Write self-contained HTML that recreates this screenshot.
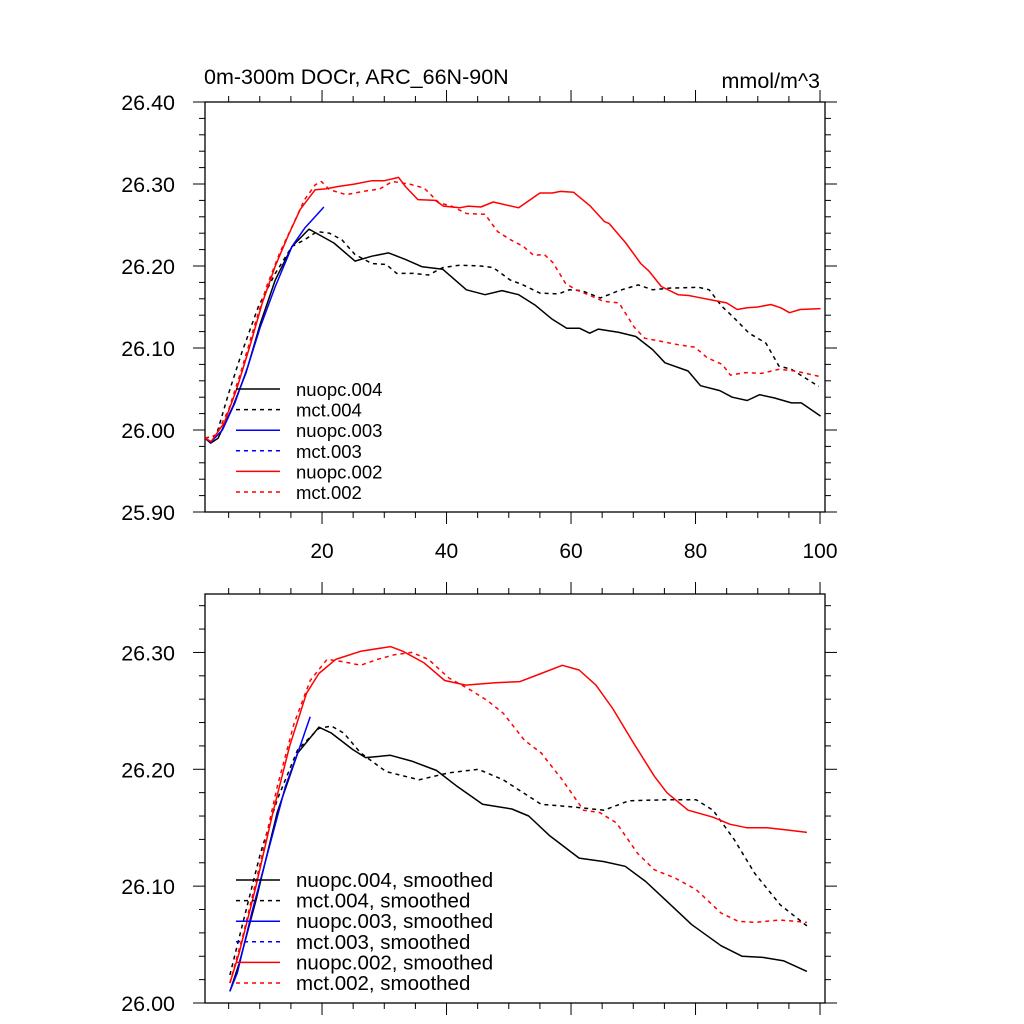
<!DOCTYPE html>
<html><head><meta charset="utf-8"><style>html,body{margin:0;padding:0;background:#fff}svg{display:block}text{font-family:"Liberation Sans",sans-serif}</style></head>
<body>
<svg id="chart" width="1024" height="1024" viewBox="0 0 1024 1024" xmlns="http://www.w3.org/2000/svg">
<text x="204" y="84" font-size="21.5">0m-300m DOCr, ARC_66N-90N</text>
<text x="820" y="88" font-size="21.5" text-anchor="end">mmol/m^3</text>
<g id="top"></g>
<g id="bot"></g>
</svg>
<script>
const xTicks=[20,40,60,80,100];
const topYTicks=[25.90,26.00,26.10,26.20,26.30,26.40];
const botYTicks=[26.00,26.10,26.20,26.30];

const nuopc004X=[1.2,2.1,3.3,5.7,7.8,10.1,12.5,15.2,17.9,21.9,25.3,28,30.7,33.4,36.1,39.4,43.2,46.2,48.9,51.6,54.3,57,59.3,61.4,63,64.4,67.7,70.4,73.1,75.1,78.8,80.8,83.9,85.9,88.3,90.3,92.7,95.4,97,100.1];
const nuopc004Y=[25.990,25.984,25.99,26.029,26.07,26.13,26.183,26.224,26.245,26.228,26.206,26.212,26.216,26.208,26.199,26.196,26.171,26.165,26.170,26.165,26.152,26.135,26.124,26.124,26.118,26.123,26.119,26.114,26.098,26.082,26.072,26.054,26.048,26.040,26.036,26.043,26.039,26.033,26.033,26.017];
const mct004X=[1.2,3,5,7.1,9.8,12.5,15.2,17.2,19.2,21.2,23.2,25.3,28,30.3,32,34.7,37.1,39.4,42.1,45.5,47.5,50.2,52.3,55,58,59.7,61.7,64.7,67.7,70.8,73.1,75.8,80.5,82.2,84.2,85.9,88.6,91.3,93.4,95.4,97.7,99.8];
const mct004Y=[25.99,25.993,26.045,26.094,26.151,26.191,26.224,26.232,26.242,26.24,26.232,26.214,26.203,26.202,26.191,26.191,26.189,26.198,26.201,26.2,26.198,26.183,26.177,26.167,26.166,26.171,26.170,26.161,26.17,26.177,26.171,26.173,26.174,26.171,26.151,26.139,26.118,26.106,26.078,26.074,26.063,26.053];
const nuopc003X=[1.2,2.1,4,6,8.1,10.1,12.5,15.2,17.2,20.3];
const nuopc003Y=[25.99,25.985,26.0,26.033,26.078,26.126,26.175,26.224,26.246,26.272];
const nuopc002X=[1.2,2.2,4.3,6.3,8.4,10.4,12.5,14.5,16.5,18.9,20.6,22.6,25.3,28,30,32.3,33.4,35.4,38.2,39.5,42.1,43.5,45.5,47.5,51.6,55,57,58.3,60.4,63.1,65.4,66.1,68.8,71.2,72.5,74.5,77.2,78.9,80.3,82.9,85,86.7,88.3,90,92.1,93.7,95.1,96.8,100.1];
const nuopc002Y=[25.99,25.986,26.009,26.05,26.102,26.155,26.2,26.236,26.269,26.293,26.294,26.297,26.30,26.304,26.304,26.308,26.297,26.281,26.28,26.273,26.271,26.273,26.272,26.278,26.271,26.289,26.289,26.291,26.29,26.273,26.254,26.252,26.228,26.203,26.194,26.175,26.165,26.164,26.162,26.158,26.155,26.147,26.149,26.15,26.153,26.149,26.143,26.147,26.148];
const mct002X=[1.2,3,5,7.1,9.1,11.1,13.2,15.2,17.2,18.9,19.9,21.2,23.9,26.6,29.3,31.3,34,36.4,38.8,40.8,43.2,46.2,48.2,50.3,52.3,54,55.7,57.1,59.1,60.8,63.1,65.2,67.7,70.1,71.8,74.5,77.2,79.9,81.9,84.3,85.6,88,90.6,93.4,96,100.1];
const mct002Y=[25.99,25.994,26.025,26.074,26.126,26.175,26.216,26.248,26.281,26.299,26.303,26.293,26.287,26.291,26.294,26.303,26.30,26.295,26.277,26.273,26.264,26.263,26.242,26.232,26.224,26.213,26.214,26.204,26.179,26.171,26.164,26.157,26.155,26.126,26.112,26.108,26.104,26.101,26.088,26.08,26.067,26.07,26.069,26.074,26.072,26.065];

const sNuopc004X=[5.2,6.7,9.4,12.8,16.1,19.5,21.5,24.9,27,31,34.4,38.4,41.8,45.8,50.5,53.2,56.6,61.3,65.3,68.7,72,75.4,79.4,84.1,87.5,90.8,94.2,97.9];
const sNuopc004Y=[26.010,26.034,26.088,26.163,26.214,26.236,26.231,26.217,26.21,26.212,26.207,26.199,26.185,26.170,26.166,26.16,26.143,26.124,26.121,26.117,26.104,26.087,26.067,26.049,26.04,26.039,26.036,26.027];
const sMct004X=[5.2,7.4,10.1,12.8,16.1,19.5,21.5,23.5,26.2,30.3,35.6,40.4,45.1,49.1,55.2,59.9,65.3,69.3,75.4,80.1,82.8,86.2,89.5,93.6,97.9];
const sMct004Y=[26.024,26.071,26.128,26.174,26.217,26.235,26.237,26.231,26.214,26.198,26.191,26.197,26.2,26.191,26.17,26.168,26.165,26.173,26.174,26.174,26.165,26.14,26.111,26.084,26.066];
const sNuopc003X=[5.2,6.4,8.7,11.4,14.1,16.5,18.1];
const sNuopc003Y=[26.01,26.026,26.077,26.131,26.185,26.22,26.245];
const sNuopc002X=[5.2,6.7,9.4,12.1,14.8,17.5,19.5,22.2,26.2,31,33,36.4,39.7,43.1,47.8,51.8,55.2,58.6,61.3,64,66.7,70.1,73.4,75.4,78.8,82.8,85.5,88.2,91.5,94.9,97.9];
const sNuopc002Y=[26.017,26.043,26.1,26.163,26.22,26.265,26.282,26.294,26.301,26.305,26.301,26.291,26.276,26.272,26.274,26.275,26.282,26.289,26.285,26.272,26.252,26.222,26.194,26.18,26.165,26.159,26.153,26.15,26.15,26.148,26.146];
const sMct002X=[5.2,7.4,10.1,12.8,15.5,18.1,20.8,23.5,26.2,28.9,31.6,34.4,37.1,40.4,43.8,46.5,49.1,52.5,55.2,58.6,62,64.6,67.3,70.7,73.4,76.7,80.1,84.1,86.8,89.5,93.6,97.9];
const sMct002Y=[26.017,26.06,26.12,26.185,26.239,26.276,26.294,26.292,26.289,26.294,26.298,26.3,26.294,26.278,26.268,26.259,26.248,26.225,26.214,26.191,26.165,26.163,26.154,26.128,26.114,26.107,26.097,26.077,26.07,26.069,26.071,26.069];

const topLabels=["nuopc.004","mct.004","nuopc.003","mct.003","nuopc.002","mct.002"];
const botLabels=["nuopc.004, smoothed","mct.004, smoothed","nuopc.003, smoothed","mct.003, smoothed","nuopc.002, smoothed","mct.002, smoothed"];
const colors=["#000","#000","#0000ff","#0000ff","#ff0000","#ff0000"];
const dashed=[false,true,false,true,false,true];

const NS="http://www.w3.org/2000/svg";
function mk(tag,attrs,parent){const e=document.createElementNS(NS,tag);for(const k in attrs)e.setAttribute(k,attrs[k]);parent.appendChild(e);return e;}

function panel(g,top,bottom,ymin,ymax,yTicks,series,labels,legY,prefix,legFont){
  const L=205,R=825,xmin=1.2,xmax=100.8;
  const sx=v=>L+(v-xmin)/(xmax-xmin)*(R-L);
  const sy=v=>bottom-(v-ymin)/(ymax-ymin)*(bottom-top);
  const fr=mk('rect',{x:L,y:top,width:R-L,height:bottom-top,fill:'none',stroke:'#000','stroke-width':1.3},g);
  
  
  for(let v=5;v<=100;v+=5){
    const major=v%20===0, len=major?12:6, x=sx(v);
    const t1=mk('line',{x1:x,x2:x,y1:bottom,y2:bottom+len,stroke:'#000','stroke-width':1},g);
    
    
    const t2=mk('line',{x1:x,x2:x,y1:top,y2:top-len,stroke:'#000','stroke-width':1},g);
    
    
  }
  if(prefix==='top'){
    xTicks.forEach(v=>{const t=mk('text',{x:sx(v),y:bottom+46,'font-size':21,'text-anchor':'middle'},g);t.textContent=v;
      
      });
  }
  const step=0.02;
  for(let i=0;ymin+i*step<=ymax+1e-9;i++){
    const v=ymin+i*step, y=sy(v);
    const major=yTicks.some(t=>Math.abs(t-v)<1e-6), len=major?12:6;
    const a=mk('line',{x1:L,x2:L-len,y1:y,y2:y,stroke:'#000','stroke-width':1},g);
    
    
    const b=mk('line',{x1:R,x2:R+len,y1:y,y2:y,stroke:'#000','stroke-width':1},g);
    
    
  }
  yTicks.forEach(v=>{const t=mk('text',{x:175,y:sy(v)+8,'font-size':21.5,'text-anchor':'end'},g);t.textContent=v.toFixed(2);
    
    });
  series.forEach((s,i)=>{
    if(!s)return;
    const d=s[0].map((x,j)=>(j?'L':'M')+sx(x).toFixed(1)+' '+sy(s[1][j]).toFixed(1)).join(' ');
    const p=mk('path',{d:d,fill:'none',stroke:colors[i],'stroke-width':1.5,'stroke-dasharray':dashed[i]?'4,4':'none','stroke-linejoin':'round'},g);
    
    
  });
  labels.forEach((lab,i)=>{
    const y=legY+i*20.6;
    const ln=mk('line',{x1:236,x2:280,y1:y,y2:y,stroke:colors[i],'stroke-width':1.5,'stroke-dasharray':dashed[i]?'4,4':'none'},g);
    
    
    const t=mk('text',{x:296,y:y+7,'font-size':legFont},g);t.textContent=lab;
    
    
  });
}
panel(document.getElementById('top'),102,512,25.90,26.40,topYTicks,
  [[nuopc004X,nuopc004Y],[mct004X,mct004Y],[nuopc003X,nuopc003Y],null,[nuopc002X,nuopc002Y],[mct002X,mct002Y]],topLabels,389,'top',18.5);
panel(document.getElementById('bot'),594,1003,26.00,26.35,botYTicks,
  [[sNuopc004X,sNuopc004Y],[sMct004X,sMct004Y],[sNuopc003X,sNuopc003Y],null,[sNuopc002X,sNuopc002Y],[sMct002X,sMct002Y]],botLabels,880,'bot',20.5);
</script>
</body></html>
